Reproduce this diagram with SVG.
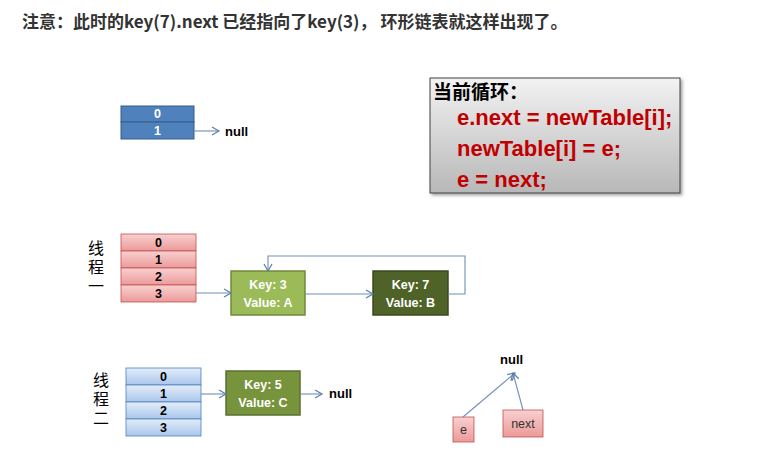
<svg xmlns="http://www.w3.org/2000/svg" width="768" height="460" viewBox="0 0 768 460">
<defs>
<linearGradient id="gPink" x1="0" y1="0" x2="0" y2="1"><stop offset="0" stop-color="#f8d0d0"/><stop offset="1" stop-color="#ec9a9a"/></linearGradient>
<linearGradient id="gLBlue" x1="0" y1="0" x2="0" y2="1"><stop offset="0" stop-color="#e3edf9"/><stop offset="1" stop-color="#a9c6ec"/></linearGradient>
<linearGradient id="gGray" x1="0" y1="0" x2="0" y2="1"><stop offset="0" stop-color="#f2f2f2"/><stop offset="1" stop-color="#b8b8b8"/></linearGradient>
<marker id="arr" markerWidth="10" markerHeight="10" refX="8" refY="5" orient="auto" markerUnits="userSpaceOnUse"><path d="M1,1 L8,5 L1,9" fill="none" stroke="#5b7fa6" stroke-width="1.2"/></marker>
<filter id="sh" x="-10%" y="-10%" width="130%" height="130%"><feDropShadow dx="2" dy="2" stdDeviation="1.5" flood-color="#000" flood-opacity="0.35"/></filter>
</defs>
<style>
text{font-family:"Liberation Sans","Noto Sans CJK SC",sans-serif;font-weight:bold}
.cn{font-family:"Noto Sans CJK SC",sans-serif}
.title{font-size:17px;fill:#333}
.cellB{fill:#4f81bd;stroke:#385d8a;stroke-width:1}
.cellP{fill:url(#gPink);stroke:#c0504d;stroke-width:0.8}
.cellL{fill:url(#gLBlue);stroke:#4f81bd;stroke-width:0.8}
.num{font-size:12.5px;text-anchor:middle;fill:#000}
.numW{font-size:12.5px;text-anchor:middle;fill:#fff}
.lbl{font-size:13px;fill:#000}
.node{stroke-width:1.5}
.nt{font-size:12.5px;text-anchor:middle;fill:#fff}
.conn{fill:none;stroke:#6f8fb4;stroke-width:1.1}
.code{font-size:22px;fill:#c00000}
.thr{font-size:16px;fill:#000;font-weight:normal;writing-mode:vertical-rl;letter-spacing:3px}
.small{font-size:12.5px;fill:#333;font-weight:normal;text-anchor:middle}
</style>

<text class="title cn" x="22" y="28">注意：此时的key(7).next 已经指向了key(3)， 环形链表就这样出现了。</text>

<g id="table0">
<rect class="cellB" x="121" y="106" width="73" height="16"/>
<rect class="cellB" x="121" y="122" width="73" height="17"/>
<text class="numW" x="157.5" y="118">0</text>
<text class="numW" x="157.5" y="135">1</text>
</g>
<g id="null0"><text class="lbl" x="225" y="136">null</text></g>

<g id="loopbox">
<rect x="430" y="78" width="250" height="115" fill="url(#gGray)" stroke="#404040" stroke-width="1" filter="url(#sh)"/>
<text class="cn" x="433" y="99" style="font-size:19px;fill:#000">当前循环：</text>
<text class="code" x="457" y="125">e.next = newTable[i];</text>
<text class="code" x="457" y="156">newTable[i] = e;</text>
<text class="code" x="457" y="187">e = next;</text>
</g>

<g id="thread1label">
<text class="thr cn" x="96" y="240">线程一</text>
</g>
<g id="table1">
<rect class="cellP" x="121" y="234" width="75" height="17"/>
<rect class="cellP" x="121" y="251" width="75" height="17"/>
<rect class="cellP" x="121" y="268" width="75" height="17"/>
<rect class="cellP" x="121" y="285" width="75" height="17"/>
<text class="num" x="158.5" y="247">0</text>
<text class="num" x="158.5" y="264">1</text>
<text class="num" x="158.5" y="281">2</text>
<text class="num" x="158.5" y="298">3</text>
</g>
<g id="node3">
<rect class="node" x="231" y="271" width="74" height="44" fill="#9bbb59" stroke="#71893f"/>
<text class="nt" x="268" y="289">Key: 3</text>
<text class="nt" x="268" y="307">Value: A</text>
</g>
<g id="node7">
<rect class="node" x="373" y="271" width="75" height="44" fill="#4f6228" stroke="#3a4a1d"/>
<text class="nt" x="410.5" y="289">Key: 7</text>
<text class="nt" x="410.5" y="307">Value: B</text>
</g>

<g id="thread2label">
<text class="thr cn" x="101" y="372">线程二</text>
</g>
<g id="table2">
<rect class="cellL" x="126" y="368" width="75" height="17"/>
<rect class="cellL" x="126" y="385" width="75" height="17"/>
<rect class="cellL" x="126" y="402" width="75" height="17"/>
<rect class="cellL" x="126" y="419" width="75" height="17"/>
<text class="num" x="163.5" y="381">0</text>
<text class="num" x="163.5" y="398">1</text>
<text class="num" x="163.5" y="415">2</text>
<text class="num" x="163.5" y="432">3</text>
</g>
<g id="node5">
<rect class="node" x="226" y="371" width="74" height="44" fill="#77933c" stroke="#5a7030"/>
<text class="nt" x="263" y="389">Key: 5</text>
<text class="nt" x="263" y="407">Value: C</text>
</g>
<g id="null2"><text class="lbl" x="329" y="398">null</text></g>

<g id="null3"><text class="lbl" x="500" y="364">null</text></g>
<g id="e">
<rect x="453" y="417" width="21" height="25" fill="url(#gPink)" stroke="#c0504d" stroke-width="0.8"/>
<text class="small" x="463.5" y="434">e</text>
</g>
<g id="next">
<rect x="503" y="410" width="40" height="27" fill="url(#gPink)" stroke="#c0504d" stroke-width="0.8"/>
<text class="small" x="523" y="428">next</text>
</g>

<g id="connectors">
<path class="conn" d="M194,131 L219,131" marker-end="url(#arr)"/>
<path class="conn" d="M196,293 L231,293" marker-end="url(#arr)"/>
<path class="conn" d="M305,294 L373,294" marker-end="url(#arr)"/>
<path class="conn" d="M448,294 L465,294 L465,256 L268,256 L268,271" marker-end="url(#arr)"/>
<path class="conn" d="M201,394 L226,394" marker-end="url(#arr)"/>
<path class="conn" d="M300,394 L322,394" marker-end="url(#arr)"/>
<path class="conn" d="M463,417 L515,373" marker-end="url(#arr)"/>
<path class="conn" d="M523,410 L513,373" marker-end="url(#arr)"/>
</g>
</svg>
